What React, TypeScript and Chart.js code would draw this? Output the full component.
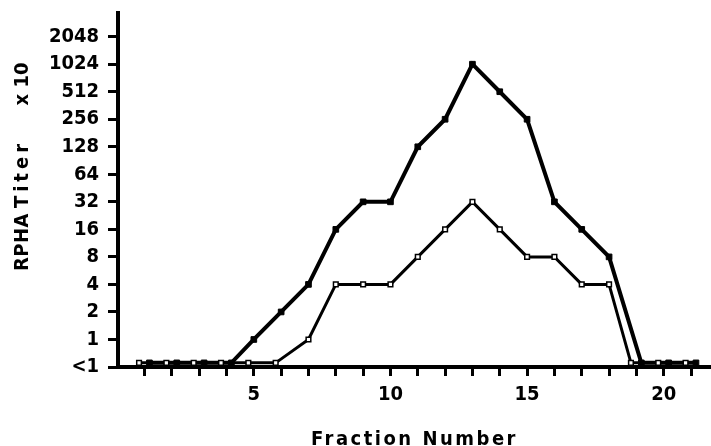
import React, { useEffect, useRef } from 'react';
import { Chart, registerables } from 'chart.js';

Chart.register(...registerables);

// ---- data ----
const fractions = [1, 2, 3, 4, 5, 6, 7, 8, 9, 10, 11, 12, 13, 14, 15, 16, 17, 18, 19, 20, 21];
// 0 stands for "<1"
const filledTiters = [0, 0, 0, 0, 1, 2, 4, 16, 32, 32, 128, 256, 1024, 512, 256, 32, 16, 8, 0, 0, 0];
const openTiters = [0, 0, 0, 0, 0, 0, 1, 4, 4, 4, 8, 16, 32, 16, 8, 8, 4, 4, 0, 0, 0];
const yTickLabels = ['<1', '1', '2', '4', '8', '16', '32', '64', '128', '256', '512', '1024', '2048'];
const xTickLabels = [5, 10, 15, 20];
const xTitle = 'Fraction Number';
const yTitleParts = ['RPHA', 'Titer', 'x 10'];

// ---- rendering constants ----
const FONT_FAMILY = "'DejaVu Sans Condensed', 'DejaVu Sans', sans-serif";
const OPEN_SHIFT = -0.2; // baseline points drawn slightly apart, as in the original
const FILLED_SHIFT = 0.18;
const BASELINE_LIFT = 0.15;

const toLevel = (v: number) => (v < 1 ? 0 : Math.log2(v) + 1);

const makePoints = (titers: number[], shift: number) =>
  fractions.map((f, i) => {
    const lvl = toLevel(titers[i]);
    return lvl === 0 ? { x: f + shift, y: BASELINE_LIFT } : { x: f, y: lvl };
  });

const titlePlugin = {
  id: 'customTitles',
  afterDraw(chart: any) {
    const { ctx, chartArea } = chart;
    ctx.save();
    ctx.fillStyle = '#000';
    ctx.font = `bold 20px ${FONT_FAMILY}`;
    ctx.textAlign = 'center';
    ctx.textBaseline = 'alphabetic';
    (ctx as any).letterSpacing = '2.5px';
    ctx.fillText(xTitle, (chartArea.left + chartArea.right) / 2, 445);
    // y title, rotated, in its three spaced words
    const yOffsets = [229, 161, 71]; // distance from chart top to word centre
    const spacing = ['0.5px', '4px', '0px'];
    yTitleParts.forEach((w, i) => {
      ctx.save();
      (ctx as any).letterSpacing = spacing[i];
      ctx.translate(28, chartArea.top + yOffsets[i]);
      ctx.rotate(-Math.PI / 2);
      ctx.fillText(w, 0, 0);
      ctx.restore();
    });
    ctx.restore();
  },
};

export default function App() {
  const canvasRef = useRef<HTMLCanvasElement | null>(null);

  useEffect(() => {
    if (!canvasRef.current) return;
    const chart = new Chart(canvasRef.current, {
      type: 'line',
      data: {
        datasets: [
          {
            label: 'open',
            data: makePoints(openTiters, OPEN_SHIFT),
            borderColor: '#000',
            borderWidth: 3,
            pointStyle: 'rect',
            pointRadius: 3.3,
            pointBackgroundColor: '#fff',
            pointBorderColor: '#000',
            pointBorderWidth: 1.5,
            tension: 0,
            clip: false as any,
          },
          {
            label: 'filled',
            data: makePoints(filledTiters, FILLED_SHIFT),
            borderColor: '#000',
            borderWidth: 4,
            pointStyle: 'rect',
            pointRadius: 4,
            pointBackgroundColor: '#000',
            pointBorderColor: '#000',
            pointBorderWidth: 1,
            tension: 0,
            clip: false as any,
          },
        ],
      },
      options: {
        animation: false,
        responsive: true,
        maintainAspectRatio: false,
        layout: { autoPadding: false, padding: { top: 13, right: 0, left: 0, bottom: 0 } },
        plugins: {
          legend: { display: false },
          tooltip: { enabled: false },
        },
        scales: {
          x: {
            type: 'linear',
            min: 0.03,
            max: 21.73,
            afterBuildTicks: (scale: any) => {
              scale.ticks = fractions.map((f) => ({ value: f }));
            },
            afterFit: (scale: any) => {
              scale.height = 79;
              scale.paddingLeft = 0;
              scale.paddingRight = 0;
            },
            ticks: {
              autoSkip: false,
              maxRotation: 0,
              padding: 7,
              color: '#000',
              font: { family: FONT_FAMILY, size: 20, weight: 'bold' },
              callback: (v: any) => (xTickLabels.includes(Number(v)) ? String(v) : ''),
            },
            grid: {
              drawOnChartArea: false,
              drawTicks: true,
              tickLength: 9,
              tickWidth: 3,
              tickColor: '#000',
            },
            border: { display: true, color: '#000', width: 4 },
          },
          y: {
            type: 'linear',
            min: 0,
            max: 12.86,
            afterBuildTicks: (scale: any) => {
              scale.ticks = yTickLabels.map((_, i) => ({ value: i }));
            },
            afterFit: (scale: any) => {
              scale.width = 118;
              scale.paddingTop = 0;
              scale.paddingBottom = 0;
            },
            ticks: {
              autoSkip: false,
              padding: 9,
              color: '#000',
              font: { family: FONT_FAMILY, size: 20, weight: 'bold' },
              callback: (v: any) => yTickLabels[Number(v)] ?? '',
            },
            grid: {
              drawOnChartArea: false,
              drawTicks: true,
              tickLength: 10,
              tickWidth: 3,
              tickColor: '#000',
            },
            border: { display: true, color: '#000', width: 4 },
          },
        },
      },
      plugins: [titlePlugin],
    } as any);
    return () => chart.destroy();
  }, []);

  return (
    <div style={{ position: 'fixed', left: 0, top: 0, width: 711, height: 446, background: '#fff' }}>
      <canvas ref={canvasRef} />
    </div>
  );
}
